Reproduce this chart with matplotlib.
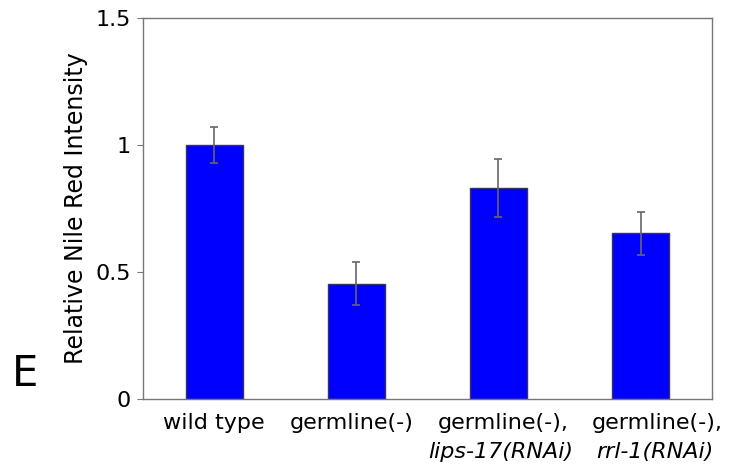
import matplotlib.pyplot as plt
import matplotlib.transforms as mtransforms

# Data
labels = ['wild type', 'germline(-)', 'germline(-),', 'germline(-),']
sublabels = ['', '', 'lips-17(RNAi)', 'rrl-1(RNAi)']
values = [1.00, 0.455, 0.83, 0.652]
errors = [0.07, 0.085, 0.115, 0.086]

fig = plt.figure(figsize=(7.3, 4.68), dpi=100)
ax = fig.add_axes([0.196, 0.147, 0.779, 0.815])

x = range(len(labels))
ax.bar(x, values, width=0.4, color='#0000ff', edgecolor='#333366', linewidth=1,
       yerr=errors, ecolor='#666666', capsize=3,
       error_kw={'elinewidth': 1.2, 'capthick': 1.2})

ax.set_xlim(-0.5, 3.5)
ax.set_ylim(0, 1.5)
ax.set_yticks([0, 0.5, 1, 1.5])
ax.set_yticklabels(['0', '0.5', '1', '1.5'])
ax.tick_params(axis='y', direction='out', length=4, color='#777777',
               labelsize=16, pad=5)
ax.tick_params(axis='x', length=0, labelsize=16, pad=10)
ax.set_xticks(list(x))
ax.set_xticklabels(labels)

# the labels in the reference are not quite centred under the bars (px)
label_shift = [0, -5, 5, 17]
sub_shift = [0, 0, 2, 14]
for lab, dx in zip(ax.get_xticklabels(), label_shift):
    lab.set_transform(lab.get_transform() +
                      mtransforms.ScaledTranslation(dx / 100, 0, fig.dpi_scale_trans))

for i, s in enumerate(sublabels):
    if s:
        ax.annotate(s, xy=(i, 0), xycoords=('data', 'axes fraction'),
                    xytext=(sub_shift[i] * 0.72, -31), textcoords='offset points',
                    ha='center', va='top', fontsize=16, style='italic')

for side in ['left', 'right', 'top', 'bottom']:
    ax.spines[side].set_color('#777777')
    ax.spines[side].set_linewidth(1)

ax.set_ylabel('Relative Nile Red Intensity', fontsize=17)
ax.yaxis.set_label_coords(-0.097, 0.5)
fig.text(0.034, 0.2, 'E', fontsize=30, ha='center', va='center')

fig.savefig('out.png', dpi=100)
